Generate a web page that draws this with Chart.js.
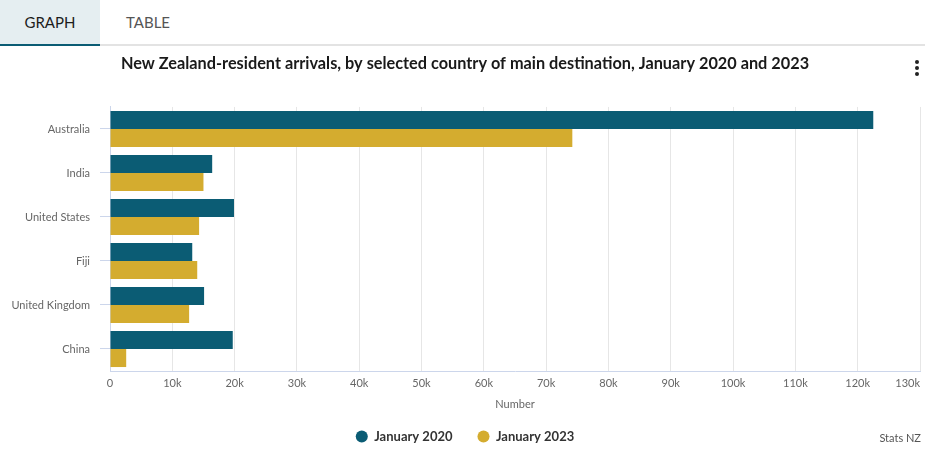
<!DOCTYPE html>
<html>
<head>
<meta charset="utf-8">
<script src="https://cdn.jsdelivr.net/npm/chart.js@4"></script>
<style>
body { margin:0; width:925px; height:450px; overflow:hidden; background:#fff; font-family:Lato, sans-serif; position:relative; }
.tabs { position:absolute; left:0; top:0; width:925px; height:44px; border-bottom:2px solid #e3e3e3; }
.tab { position:absolute; top:0; height:44px; line-height:44px; font-size:15px; text-align:center; }
.tab.on { left:0; width:100px; background:#e5eef1; color:#1c1c1c; border-bottom:2px solid #0b5c74; }
.tab.off { left:100px; width:96px; color:#555; }
.wrap { position:absolute; left:0; top:46px; width:925px; height:407px; }
.menu { position:absolute; left:915px; top:60px; }
.menu div { width:4px; height:4px; border-radius:2px; background:#222; margin-bottom:2px; }
.credit { position:absolute; right:4px; top:431px; font-size:11px; color:#555; }
</style>
</head>
<body>
<div class="tabs"><div class="tab on">GRAPH</div><div class="tab off">TABLE</div></div>
<div class="menu"><div></div><div></div><div></div></div>
<div class="wrap"><canvas id="myChart"></canvas></div>
<div class="credit">Stats NZ</div>
<script>
let paises = ['Australia','India','United States','Fiji','United Kingdom','China'];
let jan2020 = [122500, 16400, 19900, 13200, 15100, 19700];
let jan2023 = [74200, 15000, 14300, 14000, 12700, 2600];
let xMax = 130000;
let xStep = 10000;

// alinha o último rótulo (130k) à direita para caber no canvas
let ultimoRotulo = {
    id: 'ultimoRotulo',
    beforeDraw(chart){
        let s = chart.scales.x;
        let items = s.getLabelItems(chart.chartArea);
        if(items.length){
            items[items.length-1].options.textAlign = 'right';
        }
    }
};

let ctx = document.getElementById('myChart').getContext('2d');
let myChart = new Chart(ctx, {
    type: 'bar',
    data: {
        labels: paises,
        datasets: [
            {
                label: 'January 2020',
                data: jan2020,
                backgroundColor: '#0b5c74',
                borderWidth: 0
            },
            {
                label: 'January 2023',
                data: jan2023,
                backgroundColor: '#d4ac2f',
                borderWidth: 0
            }
        ]
    },
    options: {
        indexAxis: 'y',
        responsive: true,
        maintainAspectRatio: false,
        animation: false,
        categoryPercentage: 0.82,
        barPercentage: 1,
        layout: { padding: { left: 10, right: 5, top: 0, bottom: 0 } },
        scales: {
            x: {
                min: 0,
                max: xMax,
                ticks: {
                    stepSize: xStep,
                    padding: 6,
                    color: '#666',
                    font: { family: 'Lato', size: 11 },
                    maxRotation: 0,
                    callback: v => v === 0 ? '0' : (v/1000) + 'k'
                },
                grid: { color: '#e6e6e6', drawTicks: false },
                border: { display: true, color: '#ccd6eb' },
                title: {
                    display: true,
                    text: 'Number',
                    color: '#666',
                    font: { family: 'Lato', size: 11 },
                    padding: { top: 4, bottom: -5.6 }
                },
                afterFit: s => { s.paddingRight = 0; s.paddingLeft = 0; s.height = 34; }
            },
            y: {
                ticks: {
                    padding: 10,
                    color: '#666',
                    font: { family: 'Lato', size: 11 }
                },
                grid: { drawOnChartArea: false, drawTicks: true, tickLength: 10, color: '#ccd6eb', offset: false },
                border: { display: true, color: '#ccd6eb' },
                afterFit: s => { s.width = 100; }
            }
        },
        plugins: {
            title: {
                display: true,
                text: 'New Zealand-resident arrivals, by selected country of main destination, January 2020 and 2023',
                color: '#1a1a1a',
                font: { family: 'Lato', size: 16.3, weight: 'bold' },
                padding: { top: 8, bottom: 33.4 }
            },
            legend: {
                position: 'bottom',
                labels: {
                    usePointStyle: true,
                    pointStyle: 'circle',
                    boxWidth: 12,
                    boxHeight: 8.5,
                    padding: 25,
                    color: '#333',
                    font: { family: 'Lato', size: 13, weight: 'bold' }
                }
            },
            tooltip: { enabled: false }
        }
    },
    plugins: [ultimoRotulo]
});
</script>
</body>
</html>
